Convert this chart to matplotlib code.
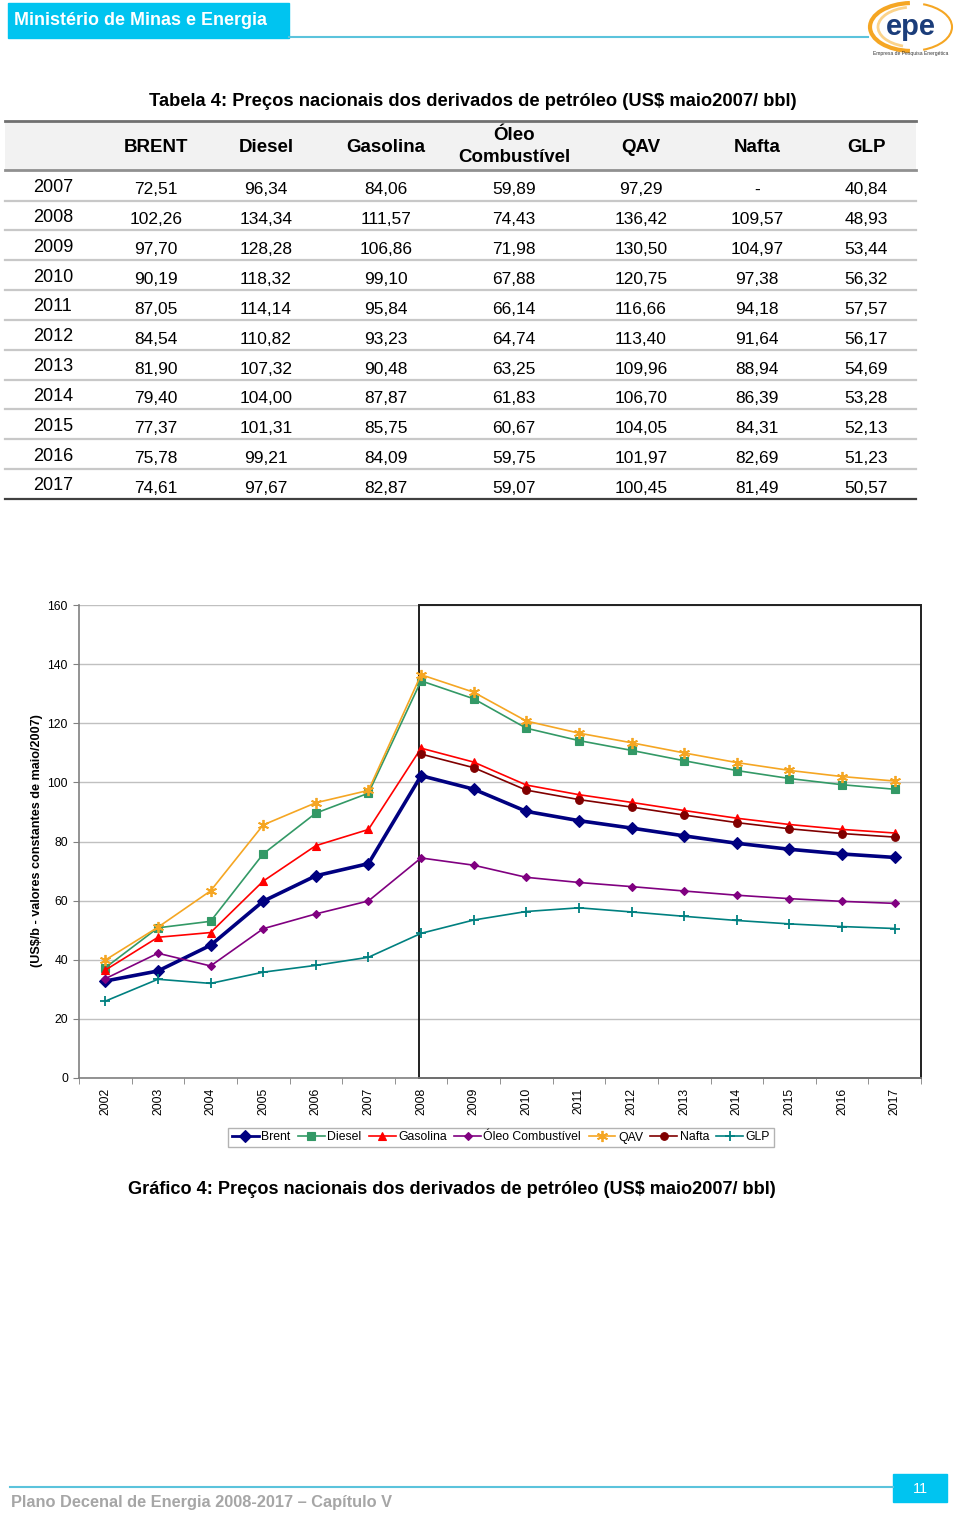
import numpy as np
import matplotlib
matplotlib.use('Agg')
import matplotlib.pyplot as plt
from matplotlib.patches import Rectangle, Arc
from matplotlib.lines import Line2D

plt.rcParams['font.family'] = ['Liberation Sans', 'DejaVu Sans']

# dados do gráfico (2002-2006, 2007-2017 da tabela)
years = list(range(2002, 2018))
nan = np.nan
brent = [32.8, 36.2, 44.9, 59.8, 68.4, 72.51, 102.26, 97.70, 90.19, 87.05, 84.54, 81.90, 79.40, 77.37, 75.78, 74.61]
diesel = [37.3, 50.8, 53.0, 75.8, 89.6, 96.34, 134.34, 128.28, 118.32, 114.14, 110.82, 107.32, 104.00, 101.31, 99.21, 97.67]
gasolina = [36.5, 47.6, 49.2, 66.6, 78.6, 84.06, 111.57, 106.86, 99.10, 95.84, 93.23, 90.48, 87.87, 85.75, 84.09, 82.87]
oleo = [33.6, 42.2, 37.9, 50.5, 55.5, 59.89, 74.43, 71.98, 67.88, 66.14, 64.74, 63.25, 61.83, 60.67, 59.75, 59.07]
qav = [39.9, 51.0, 63.3, 85.6, 93.1, 97.29, 136.42, 130.50, 120.75, 116.66, 113.40, 109.96, 106.70, 104.05, 101.97, 100.45]
nafta = [nan, nan, nan, nan, nan, nan, 109.57, 104.97, 97.38, 94.18, 91.64, 88.94, 86.39, 84.31, 82.69, 81.49]
glp = [26.0, 33.4, 32.0, 35.8, 38.1, 40.84, 48.93, 53.44, 56.32, 57.57, 56.17, 54.69, 53.28, 52.13, 51.23, 50.57]

table_start = 5  # tabela começa em 2007
table_cols = ['BRENT', 'Diesel', 'Gasolina', 'Óleo\nCombustível', 'QAV', 'Nafta', 'GLP']
table_series = [brent, diesel, gasolina, oleo, qav, nafta, glp]

legend_names = ['Brent', 'Diesel', 'Gasolina', 'Óleo Combustível', 'QAV', 'Nafta', 'GLP']
colors = ['#000080', '#339966', '#FF0000', '#800080', '#F5A623', '#800000', '#008080']
markers = ['D', 's', '^', 'D', (6, 2, 0), 'o', '+']
msizes = [6.5, 5.5, 6, 4.5, 8, 5.5, 7]
lwidths = [2.6, 1.2, 1.2, 1.2, 1.2, 1.2, 1.2]

W, H = 960, 1514
fig = plt.figure(figsize=(W / 100, H / 100), dpi=100)

# eixo de fundo em pixels
bg = fig.add_axes([0, 0, 1, 1])
bg.set_xlim(0, W)
bg.set_ylim(H, 0)
bg.axis('off')

# cabeçalho
cyan = '#00C4F0'
lineblue = '#5BC3DC'
bg.add_patch(Rectangle((8, 3), 281, 35, color=cyan))
bg.text(14, 20.5, 'Ministério de Minas e Energia', color='white', fontsize=12.9,
        fontweight='bold', va='center', ha='left')
bg.plot([289, 868], [37, 37], color=lineblue, lw=1.5)

# logo epe
bg.add_patch(Arc((912, 27), 84, 48, theta1=95, theta2=265, color='#F5A623', lw=3))
bg.add_patch(Arc((914, 27), 72, 40, theta1=120, theta2=250, color='#FBD38A', lw=2))
bg.add_patch(Arc((910, 27), 84, 48, theta1=-60, theta2=60, color='#F5A623', lw=1.5))
bg.text(911, 27, 'epe', color='#1B3D7A', fontsize=21, fontweight='bold', ha='center', va='center')
bg.text(911, 54, 'Empresa de Pesquisa Energética', color='#333333', fontsize=3.6,
        ha='center', va='center')

# tabela
bg.text(473, 101, 'Tabela 4: Preços nacionais dos derivados de petróleo (US$ maio2007/ bbl)',
        fontsize=13.2, fontweight='bold', ha='center', va='center')
bg.add_patch(Rectangle((5, 122), 911, 48, color='#F2F2F2', lw=0))
bg.plot([5, 916], [121, 121], color='#707070', lw=2)
bg.plot([5, 916], [170, 170], color='#909090', lw=2)
col_x = [156, 266, 386, 514, 641, 757, 866]
for cx, name in zip(col_x, table_cols):
    if '\n' in name:
        top, bot = name.split('\n')
        bg.text(cx, 135, top, fontsize=13.5, fontweight='bold', ha='center', va='center')
        bg.text(cx, 158, bot, fontsize=13.5, fontweight='bold', ha='center', va='center')
    else:
        bg.text(cx, 147, name, fontsize=13.5, fontweight='bold', ha='center', va='center')

n_rows = len(years) - table_start
row_h = 29.85
for i in range(n_rows):
    yc = 190 + row_h * i
    bg.text(33, yc - 2.5, str(years[table_start + i]), fontsize=13, ha='left', va='center')
    for cx, serie in zip(col_x, table_series):
        v = serie[table_start + i]
        s = '-' if np.isnan(v) else f'{v:.2f}'.replace('.', ',')
        bg.text(cx, yc, s, fontsize=12.5, ha='center', va='center')
    sep = 200.5 + row_h * i
    if i < n_rows - 1:
        bg.plot([5, 916], [sep, sep], color='#C8C8C8', lw=1.6)
    else:
        bg.plot([5, 916], [498.5, 498.5], color='#404040', lw=1.6)

# gráfico
ax = fig.add_axes([79 / W, (H - 1078) / H, 842 / W, 473 / H])
x = np.arange(len(years))
for serie, name, c, m, ms, lw in zip(table_series, legend_names, colors, markers, msizes, lwidths):
    ax.plot(x, serie, color=c, marker=m, markersize=ms, lw=lw, label=name,
            markeredgecolor=c, markeredgewidth=1.3 if m in ('+', (6, 2, 0)) else 0.8,
            zorder=3, clip_on=False)

ax.set_xlim(-0.5, len(years) - 0.5)
ax.set_ylim(0, 160)
ax.set_yticks(np.arange(0, 161, 20))
ax.set_xticks(x)
ax.set_xticklabels([str(y) for y in years], rotation=90, fontsize=8.7)
ax.set_xticks(np.arange(-0.5, len(years), 1), minor=True)
ax.tick_params(axis='x', which='major', length=0, pad=7)
ax.tick_params(axis='x', which='minor', length=4, color='#808080')
ax.tick_params(axis='y', length=4, color='#808080', labelsize=8.7, pad=4)
ax.grid(axis='y', color='#C0C0C0', lw=1)
ax.set_axisbelow(True)
for sp in ['top', 'right']:
    ax.spines[sp].set_visible(False)
for sp in ['left', 'bottom']:
    ax.spines[sp].set_color('#808080')
    ax.spines[sp].set_linewidth(1.2)

# caixa a partir de 2008
ax.add_patch(Rectangle((5.97, 0), len(years) - 0.5 - 5.97, 160, fill=False,
                       edgecolor='#202020', lw=1.4, zorder=2, clip_on=False))

fig.text(37 / W, 1 - 841 / H, '(US$/b - valores constantes de maio/2007)', rotation=90,
         fontsize=9.1, fontweight='bold', ha='center', va='center')

handles = [Line2D([], [], color=c, marker=m, markersize=ms, lw=min(lw, 2), markeredgecolor=c,
                  markeredgewidth=1.3 if m in ('+', (6, 2, 0)) else 0.8)
           for c, m, ms, lw in zip(colors, markers, msizes, lwidths)]
fig.legend(handles, legend_names, loc='center', bbox_to_anchor=(501 / W, 1 - 1137.5 / H),
           ncol=7, fontsize=8.8, frameon=True, fancybox=False, edgecolor='#A0A0A0',
           handlelength=2.2, handletextpad=0.2, columnspacing=0.6, borderpad=0.3)

bg.text(452, 1190, 'Gráfico 4: Preços nacionais dos derivados de petróleo (US$ maio2007/ bbl)',
        fontsize=13.1, fontweight='bold', ha='center', va='center')

# rodapé
bg.plot([10, 893], [1487, 1487], color=lineblue, lw=1.5)
bg.add_patch(Rectangle((893, 1474), 54, 28, color=cyan))
bg.text(920, 1489, '11', color='white', fontsize=10.5, ha='center', va='center')
bg.text(11, 1502, 'Plano Decenal de Energia 2008-2017 – Capítulo V', color='#A6A6A6',
        fontsize=11.8, fontweight='bold', ha='left', va='center')

fig.savefig('out.png', dpi=100)
